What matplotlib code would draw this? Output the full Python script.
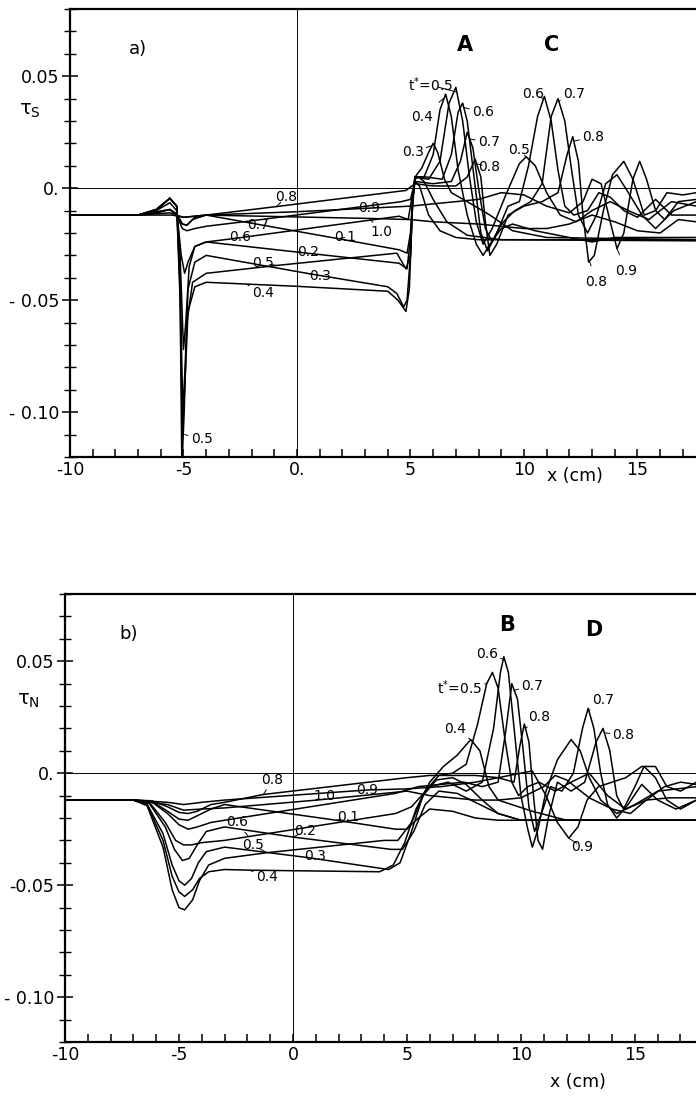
import numpy as np
import matplotlib
matplotlib.use("Agg")
import matplotlib.pyplot as plt

plt.rcParams['font.family'] = ['DejaVu Sans']

### values, (x in cm, tau) per curve, t* = 0.1 ... 1.0
# panel a) tau_S
a01 = [(-10,-.012),(-7,-.012),(-6.3,-.0112),(-5.6,-.0095),(-5.3,-.0115),(-5.05,-.016),(-4.85,-.0165),(-4.6,-.014),(-4.0,-.012),(1.8,-.0225),(4.5,-.0275),(4.85,-.029),(5.0,-.020),(5.1,-.005),(5.2,.003),(5.4,.001),(5.8,-.012),(6.3,-.019),(7,-.022),(8,-.023),(17.6,-.023)]
a02 = [(-10,-.012),(-7,-.012),(-6.2,-.010),(-5.6,-.0045),(-5.3,-.008),(-5.15,-.030),(-5.0,-.072),(-4.9,-.060),(-4.75,-.035),(-4.5,-.026),(-4.0,-.024),(0,-.0285),(4.5,-.0335),(4.85,-.036),(5.0,-.022),(5.1,-.004),(5.2,.004),(5.35,.005),(5.6,.003),(6.0,-.005),(6.6,-.015),(7.5,-.021),(9,-.023),(17.6,-.0235)]
a03 = [(-10,-.012),(-7,-.012),(-6.2,-.0095),(-5.6,-.0045),(-5.3,-.008),(-5.15,-.040),(-5.03,-.100),(-4.93,-.080),(-4.8,-.045),(-4.5,-.033),(-4.0,-.030),(0.44,-.038),(4.0,-.044),(4.4,-.047),(4.7,-.053),(4.85,-.050),(5.0,-.030),(5.1,-.005),(5.2,.005),(5.5,.009),(5.8,.016),(6.0,.020),(6.2,.016),(6.5,.004),(6.8,-.002),(7.5,-.006),(8.5,-.012),(9.5,-.019),(11,-.022),(17.6,-.023)]
a04 = [(-10,-.012),(-7,-.012),(-6.2,-.0095),(-5.6,-.0045),(-5.3,-.008),(-5.15,-.045),(-5.05,-.110),(-4.95,-.090),(-4.8,-.055),(-4.5,-.044),(-4.0,-.042),(0,-.0438),(4.0,-.046),(4.45,-.050),(4.8,-.055),(4.95,-.045),(5.08,-.010),(5.2,.005),(5.6,.005),(6.0,.015),(6.3,.035),(6.55,.042),(6.8,.032),(7.1,.008),(7.5,-.012),(7.9,-.025),(8.2,-.030),(8.5,-.025),(9,-.018),(9.5,-.016),(10.5,-.019),(12,-.022),(13,-.024),(14,-.022),(17.6,-.022)]
a05 = [(-10,-.012),(-7,-.012),(-6.2,-.0095),(-5.6,-.0045),(-5.3,-.008),(-5.15,-.050),(-5.07,-.125),(-4.97,-.100),(-4.85,-.060),(-4.6,-.042),(-4.0,-.038),(-0.9,-.0345),(4.4,-.029),(4.8,-.036),(5.0,-.030),(5.1,-.005),(5.2,.005),(5.8,.004),(6.3,.012),(6.7,.038),(7.0,.045),(7.3,.030),(7.6,.005),(7.9,-.015),(8.2,-.025),(8.6,-.018),(9.2,-.003),(9.8,.011),(10.1,.014),(10.5,.010),(11,-.002),(11.6,-.012),(12.3,-.015),(13,-.010),(13.8,-.006),(14.6,-.010),(15.5,-.014),(16.5,-.006),(17.6,-.008)]
a06 = [(-10,-.012),(-7,-.012),(-6.2,-.010),(-5.6,-.0065),(-5.3,-.010),(-5.1,-.030),(-4.95,-.038),(-4.8,-.033),(-4.5,-.026),(-4.0,-.024),(-2.8,-.0225),(4.5,-.0125),(4.9,-.014),(5.05,-.005),(5.2,.005),(5.7,.005),(6.4,.004),(6.8,.015),(7.1,.034),(7.3,.038),(7.5,.030),(7.8,.005),(8.1,-.020),(8.4,-.028),(8.8,-.020),(9.3,-.008),(9.8,-.006),(10.2,.010),(10.6,.032),(10.9,.041),(11.2,.030),(11.5,.008),(11.8,-.008),(12.2,-.012),(12.8,-.010),(13.3,-.002),(13.8,-.004),(14.4,-.010),(15,-.013),(15.8,-.005),(16.5,-.012),(17.6,-.012)]
a07 = [(-10,-.012),(-7,-.012),(-6.2,-.0105),(-5.6,-.0095),(-5.3,-.012),(-5.05,-.018),(-4.85,-.019),(-4.5,-.018),(-4.0,-.017),(-2.2,-.0148),(4.6,-.006),(5.0,-.005),(5.2,.003),(6,.002),(6.8,.003),(7.2,.012),(7.5,.025),(7.75,.018),(8.0,.000),(8.3,-.018),(8.6,-.024),(9.0,-.016),(9.6,-.010),(10.3,-.006),(10.8,.002),(11.2,.032),(11.5,.040),(11.8,.030),(12.1,.008),(12.4,-.012),(12.8,-.020),(13.2,-.012),(13.6,.002),(14.1,.006),(14.6,-.002),(15.2,-.012),(15.8,-.018),(16.6,-.010),(17.6,-.006)]
a08 = [(-10,-.012),(-7,-.012),(-6.2,-.011),(-5.6,-.0095),(-5.3,-.0115),(-5.05,-.016),(-4.85,-.0165),(-4.5,-.013),(-4.0,-.012),(-0.9,-.0082),(4.8,-.001),(5.2,.002),(6,.001),(7,.001),(7.5,.005),(7.85,.013),(8.1,.005),(8.3,-.015),(8.5,-.030),(8.8,-.025),(9.3,-.012),(10,-.008),(10.8,-.006),(11.5,-.002),(11.9,.015),(12.15,.023),(12.4,.012),(12.6,-.012),(12.85,-.033),(13.1,-.030),(13.5,-.010),(13.9,.006),(14.4,.012),(14.8,.004),(15.3,-.012),(15.8,-.010),(16.3,-.002),(17,-.003),(17.6,-.002)]
a09 = [(-10,-.012),(-7,-.012),(-5.6,-.011),(-5.0,-.013),(-4.5,-.0125),(-4,-.012),(0,-.0105),(3,-.009),(5,-.008),(6,-.007),(7,-.006),(8,-.005),(9,-.002),(10,-.003),(11,-.008),(12,-.011),(12.6,-.006),(13.0,.004),(13.4,.002),(13.8,-.015),(14.1,-.027),(14.4,-.020),(14.8,.004),(15.1,.012),(15.4,.004),(15.8,-.010),(16.2,-.014),(16.8,-.006),(17.6,-.005)]
a10 = [(-10,-.012),(-7,-.012),(-5.5,-.012),(-5.0,-.013),(-4,-.012),(3.2,-.0135),(5,-.014),(6,-.015),(8,-.016),(10,-.018),(11,-.018),(12,-.016),(13,-.012),(14,-.015),(15,-.019),(16,-.020),(16.8,-.014),(17.6,-.015)]

# panel b) tau_N
b01 = [(-10,-.012),(-7,-.012),(-6.2,-.0125),(-5.5,-.017),(-5.0,-.0205),(-4.6,-.021),(-4.2,-.019),(-3.6,-.016),(-3.0,-.014),(1.9,-.021),(4.5,-.025),(5.0,-.025),(5.5,-.020),(6.0,-.016),(7,-.017),(8,-.020),(9,-.021),(17.7,-.021)]
b02 = [(-10,-.012),(-7,-.012),(-6.3,-.0135),(-5.6,-.024),(-5.2,-.034),(-4.85,-.039),(-4.55,-.038),(-4.2,-.032),(-3.8,-.026),(-3.0,-.024),(0,-.0285),(4.3,-.034),(4.8,-.034),(5.3,-.026),(5.8,-.014),(6.4,-.008),(7.2,-.009),(8,-.013),(9,-.018),(10,-.021),(17.7,-.021)]
b03 = [(-10,-.012),(-7,-.012),(-6.4,-.0138),(-5.7,-.027),(-5.3,-.041),(-5.0,-.048),(-4.75,-.050),(-4.45,-.047),(-4.15,-.040),(-3.8,-.035),(-3.0,-.033),(0.6,-.0376),(4.2,-.043),(4.7,-.040),(5.2,-.026),(5.7,-.010),(6.3,-.003),(7.0,-.002),(7.6,-.005),(8.3,-.012),(9,-.018),(10,-.021),(17.7,-.021)]
b04 = [(-10,-.012),(-7,-.012),(-6.4,-.014),(-5.7,-.030),(-5.3,-.046),(-5.0,-.053),(-4.75,-.055),(-4.4,-.052),(-4.1,-.047),(-3.7,-.044),(-3.0,-.043),(-1.9,-.0433),(3.8,-.044),(4.4,-.041),(4.9,-.031),(5.4,-.016),(6.0,-.004),(6.6,.003),(7.2,.008),(7.8,.015),(8.2,.010),(8.6,-.006),(9.0,-.012),(9.6,-.014),(10.5,-.017),(12,-.021),(17.7,-.021)]
b05 = [(-10,-.012),(-7,-.012),(-6.4,-.0145),(-5.7,-.033),(-5.3,-.052),(-5.0,-.060),(-4.75,-.061),(-4.4,-.0565),(-4.1,-.048),(-3.7,-.041),(-3.0,-.038),(-1.15,-.0355),(4.0,-.030),(4.6,-.030),(5.2,-.022),(5.8,-.008),(6.4,-.001),(7.0,.000),(7.6,.004),(8.1,.022),(8.5,.040),(8.75,.045),(9.0,.038),(9.3,.015),(9.6,-.004),(9.9,-.010),(10.3,-.006),(10.8,-.004),(11.5,-.008),(12.2,-.004),(13,.000),(13.8,-.010),(14.6,-.016),(15.5,-.012),(16.3,-.006),(17,-.004),(17.7,-.005)]
b06 = [(-10,-.012),(-7,-.012),(-6.3,-.013),(-5.6,-.022),(-5.15,-.030),(-4.8,-.032),(-4.45,-.032),(-4.0,-.031),(-3.0,-.030),(-1.95,-.0283),(4.5,-.018),(5.2,-.015),(6,-.006),(6.8,-.004),(7.6,-.008),(8.3,-.004),(8.8,.020),(9.1,.045),(9.25,.052),(9.45,.045),(9.75,.015),(10.0,-.010),(10.3,-.025),(10.5,-.033),(10.75,-.025),(11.1,-.008),(11.6,.006),(12.2,.015),(12.6,.010),(13.0,-.002),(13.5,-.012),(14.2,-.018),(15,-.014),(16,-.008),(17.7,-.006)]
b07 = [(-10,-.012),(-7,-.012),(-6.2,-.0128),(-5.5,-.018),(-5.0,-.023),(-4.6,-.025),(-4.2,-.024),(-3.6,-.022),(-3.0,-.021),(4.5,-.009),(5.5,-.006),(6.5,-.005),(7.5,-.004),(8.3,-.006),(9.0,-.004),(9.35,.020),(9.6,.040),(9.85,.033),(10.1,.010),(10.35,-.015),(10.6,-.026),(10.9,-.018),(11.3,-.006),(11.8,-.008),(12.3,.000),(12.7,.020),(12.95,.029),(13.2,.020),(13.5,.000),(13.8,-.014),(14.2,-.020),(14.7,-.014),(15.3,-.005),(16,-.012),(16.8,-.016),(17.7,-.012)]
b08 = [(-10,-.012),(-7,-.012),(-6.2,-.0123),(-5.5,-.015),(-5.0,-.0175),(-4.6,-.018),(-4.2,-.017),(-3.6,-.014),(-3.0,-.013),(-1.3,-.0095),(5,-.002),(6,-.001),(7,-.001),(8,-.001),(9,-.002),(9.7,-.004),(9.95,.012),(10.15,.022),(10.35,.014),(10.55,-.010),(10.75,-.030),(10.95,-.034),(11.2,-.020),(11.6,-.004),(12.2,-.008),(12.8,-.004),(13.3,.014),(13.6,.020),(13.9,.010),(14.2,-.010),(14.5,-.016),(15,-.006),(15.4,.003),(15.9,-.002),(16.4,-.012),(17,-.016),(17.7,-.012)]
b09 = [(-10,-.012),(-7,-.012),(-5.5,-.013),(-4.8,-.014),(-4,-.013),(-3,-.012),(3.25,-.0075),(5,-.007),(6.5,-.006),(8,-.004),(9.5,-.001),(10.5,.001),(11.1,-.010),(11.6,-.022),(12.1,-.029),(12.5,-.024),(12.9,-.012),(13.4,-.006),(14,-.004),(14.6,-.002),(15.3,.003),(15.9,.003),(16.4,-.006),(17,-.008),(17.7,-.004)]
b10 = [(-10,-.012),(-7,-.012),(-5.5,-.014),(-4.8,-.0165),(-4,-.016),(-3,-.0155),(1.05,-.012),(5,-.008),(6,-.010),(7,-.011),(8,-.012),(9,-.012),(10,-.011),(11,-.006),(11.5,-.001),(12,-.003),(13,-.011),(14,-.016),(14.8,-.018),(15.5,-.012),(16.5,-.011),(17.7,-.011)]

# curve labels: (text, label x, label y, curve x, curve y)
labels_a = [("t$^{*}$=0.5", 5.9, .046, 7.0, .043), ("0.4", 5.5, .032, 6.45, .040), ("0.6", 8.2, .034, 7.35, .036),
            ("0.3", 5.1, .016, 5.95, .019), ("0.7", 8.45, .0205, 7.6, .022), ("0.8", 8.45, .0094, 7.9, .011),
            ("0.5", 9.8, .017, 10.1, .014), ("0.6", 10.4, .042, 10.85, .040), ("0.7", 12.2, .042, 11.55, .039),
            ("0.8", 13.05, .023, 12.2, .021), ("0.8", 13.2, -.042, 12.9, -.033), ("0.9", 14.5, -.037, 14.1, -.027),
            ("0.8", -0.5, -.004, -0.9, -.0082), ("0.7", -1.7, -.0165, -2.2, -.0148), ("0.6", -2.5, -.022, -2.8, -.0225),
            ("0.1", 2.1, -.022, 1.8, -.0225), ("0.2", 0.5, -.0285, 0.0, -.0285), ("0.5", -1.5, -.0335, -0.9, -.0345),
            ("0.3", 1.0, -.039, 0.44, -.038), ("0.4", -1.5, -.047, -2.2, -.043), ("0.9", 3.2, -.009, 3.0, -.009),
            ("1.0", 3.7, -.0196, 3.2, -.0135), ("0.5", -4.2, -.112, -4.95, -.110)]
labels_b = [("0.6", 8.5, .053, 9.2, .051), ("t$^{*}$=0.5", 7.3, .038, 8.5, .040), ("0.7", 10.5, .039, 9.7, .037),
            ("0.8", 10.8, .025, 10.2, .020), ("0.4", 7.1, .0197, 7.8, .015), ("0.7", 13.6, .0326, 13.0, .028),
            ("0.8", 14.5, .017, 13.7, .018), ("0.9", 12.7, -.033, 12.1, -.029), ("0.8", -0.9, -.003, -1.3, -.0095),
            ("0.6", -2.45, -.022, -1.95, -.0283), ("1.0", 1.4, -.010, 1.05, -.012), ("0.1", 2.4, -.0196, 1.9, -.021),
            ("0.2", 0.55, -.026, 0.0, -.0285), ("0.5", -1.75, -.032, -1.15, -.0355), ("0.3", 0.95, -.037, 0.6, -.0376),
            ("0.4", -1.15, -.0464, -1.9, -.0433), ("0.9", 3.25, -.0076, 3.25, -.0076)]

curves_a = [a01, a02, a03, a04, a05, a06, a07, a08, a09, a10]
curves_b = [b01, b02, b03, b04, b05, b06, b07, b08, b09, b10]

fig = plt.figure(figsize=(6.96, 11.08), dpi=100)
ax1 = fig.add_axes([70/696, 1-457/1108, 626/696, 448/1108])
ax2 = fig.add_axes([65/696, 1-1042/1108, 631/696, 448/1108])


def panel(ax, curves, labels, xmax, xlabels, ylabels):
    ax.set_xlim(-10, xmax)
    ax.set_ylim(-0.12, 0.08)
    ax.axhline(0, color='k', lw=0.7)
    ax.axvline(0, color='k', lw=0.7)
    for c in curves:
        xs, ys = zip(*c)
        ax.plot(xs, ys, color='k', lw=1.1)
    for t, lx, ly, cx, cy in labels:
        ax.annotate(t, xy=(cx, cy), xytext=(lx, ly), ha='center', va='center', fontsize=10,
                    arrowprops=dict(arrowstyle='-', lw=0.7, shrinkA=5, shrinkB=0))
    ax.spines['right'].set_visible(False)
    for s in ['left', 'top', 'bottom']:
        ax.spines[s].set_linewidth(1.6)
    ax.set_xticks([-10, -5, 0, 5, 10, 15], xlabels)
    ax.set_xticks(np.arange(-10, 18, 1), minor=True)
    ax.set_yticks([0.05, 0, -0.05, -0.10], ylabels)
    ax.set_yticks(np.arange(-0.12, 0.081, 0.01), minor=True)
    ax.tick_params(axis='x', which='both', direction='in', length=6, width=1.1, labelsize=12.5, pad=3)
    ax.tick_params(axis='y', which='major', direction='inout', length=12, width=1.1, labelsize=12.5, pad=2)
    ax.tick_params(axis='y', which='minor', direction='inout', length=8, width=1.0)


panel(ax1, curves_a, labels_a, 17.58, ["-10", "-5", "0.", "5", "10", "15"], ["0.05", "0.", "- 0.05", "- 0.10"])
panel(ax2, curves_b, labels_b, 17.68, ["-10", "-5", "0", "5", "10", "15"], ["0.05", "0.", "-0.05", "- 0.10"])

ax1.text(-7.0, 0.062, "a)", fontsize=13, ha='center', va='center')
ax2.text(-7.2, 0.062, "b)", fontsize=13, ha='center', va='center')
ax1.text(7.4, 0.064, "A", fontsize=15, fontweight='bold', ha='center', va='center')
ax1.text(11.2, 0.064, "C", fontsize=15, fontweight='bold', ha='center', va='center')
ax2.text(9.4, 0.066, "B", fontsize=15, fontweight='bold', ha='center', va='center')
ax2.text(13.2, 0.064, "D", fontsize=15, fontweight='bold', ha='center', va='center')

fig.text(30/696, 1-110/1108, r"$\mathregular{\tau_S}$", fontsize=14, ha='center', va='center')
fig.text(28/696, 1-700/1108, r"$\mathregular{\tau_N}$", fontsize=14, ha='center', va='center')
fig.text(575/696, 1-476/1108, "x (cm)", fontsize=12.5, ha='center', va='center')
fig.text(578/696, 1-1082/1108, "x (cm)", fontsize=12.5, ha='center', va='center')

fig.savefig("out.png", dpi=100)
